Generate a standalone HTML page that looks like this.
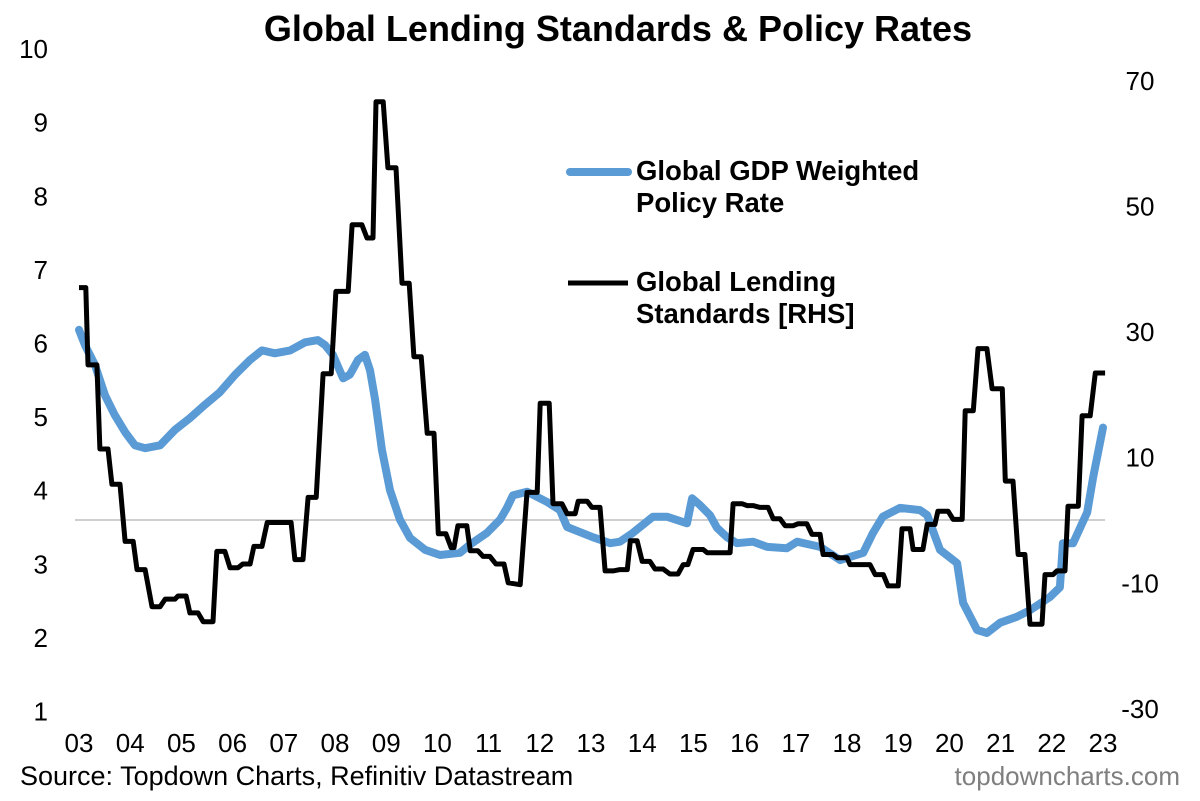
<!DOCTYPE html>
<html><head><meta charset="utf-8"><style>
html,body{margin:0;padding:0;background:#fff}
svg{display:block;font-family:"Liberation Sans",Arial,sans-serif}
</style></head><body>
<svg id="chart" width="1200" height="801" viewBox="0 0 1200 801">
<text x="618" y="41" text-anchor="middle" font-size="36" font-weight="bold">Global Lending Standards &amp; Policy Rates</text>
<g id="axes"></g>
<g id="series"></g>
<g>
<line x1="570" y1="172" x2="628" y2="172" stroke="#5b9bd5" stroke-width="8" stroke-linecap="round"/>
<text x="636" y="180" font-size="27.5" font-weight="bold"><tspan x="636">Global GDP Weighted</tspan><tspan x="636" dy="32">Policy Rate</tspan></text>
<line x1="568" y1="283" x2="628" y2="283" stroke="#000" stroke-width="5"/>
<text x="636" y="291" font-size="27.5" font-weight="bold"><tspan x="636">Global Lending</tspan><tspan x="636" dy="32">Standards [RHS]</tspan></text>
</g>
<text x="20" y="785" font-size="27">Source: Topdown Charts, Refinitiv Datastream</text>
<text x="1180" y="785" font-size="26" fill="#7f7f7f" text-anchor="end">topdowncharts.com</text>
</svg>
<script>
const yearLabels=["03","04","05","06","07","08","09","10","11","12","13","14","15","16","17","18","19","20","21","22","23"];
const leftTicks=[1,2,3,4,5,6,7,8,9,10];
const rightTicks=[-30,-10,10,30,50,70];
// months since Jan 2003
const rateMonths=[0,1.4,3.75,6.1,8.4,10.8,13.1,15.5,19,22.5,26,29.5,33,36.6,40.1,42.9,45.9,49.5,53,56,57.7,59.5,61.9,63.5,65.4,67,68.2,69.4,71,72.9,75.2,77.6,81.1,84.6,89.3,91.6,95.6,98.7,100.3,101.7,105,109.7,112.7,114.4,120.5,124.5,126.8,129.8,131.5,134.5,137.8,142.5,143.7,145.5,147.9,149.5,151.9,154.2,158,161.3,165.9,168.3,173.7,178.4,183.8,186.1,188.4,192.4,197.1,198.8,201.8,205.8,207.2,210.5,212.8,215.9,219.8,222.9,227.6,229.9,230.6,233,236.3,237.7,240];
const rateValues=[6.18,5.97,5.7,5.29,5.02,4.79,4.61,4.57,4.61,4.82,4.98,5.16,5.33,5.57,5.77,5.9,5.86,5.9,6.01,6.04,5.97,5.84,5.52,5.57,5.77,5.84,5.63,5.23,4.55,4,3.6,3.35,3.19,3.12,3.15,3.26,3.42,3.6,3.76,3.93,3.98,3.84,3.73,3.5,3.36,3.28,3.3,3.42,3.5,3.64,3.64,3.55,3.89,3.8,3.66,3.49,3.36,3.28,3.3,3.23,3.21,3.3,3.23,3.05,3.15,3.42,3.64,3.76,3.73,3.66,3.19,3.01,2.47,2.1,2.06,2.2,2.28,2.37,2.55,2.68,3.28,3.28,3.7,4.18,4.85];
const lendMonths=[0,1.6,2.1,4.2,4.9,6.8,7.7,9.6,10.8,12.7,13.6,15.5,17.1,19,20.2,22.5,23.2,25.1,26,27.9,29.1,31.4,32.3,34.2,35.4,37.3,38.4,40.1,41,42.9,44.1,49.7,50.6,52.5,53.7,55.6,57.2,59.1,60.2,63.1,64,66.3,67.5,68.9,69.6,71.3,72.4,74.3,75.7,77.4,78.5,80.2,81.6,83.2,84.2,86,87.2,87.9,88.8,90.9,91.7,93.5,94.7,96.3,97.7,99.6,100.6,103.4,105,107.4,108.1,110.2,111.1,113.2,114.4,116.3,117,119.1,120.2,122.1,123.3,125.2,126.8,128.5,129.2,130.8,132,133.8,135,136.9,138.5,140.4,141.6,142.7,143.9,146.3,147.2,152.6,153.3,155.4,156.6,158,159.6,161.5,162.7,164.3,165.5,167.4,168.5,170.6,171.8,173.7,174.4,176.7,177.7,180,180.7,185.4,186.6,188.5,189.6,192,192.9,194.8,195.5,197.8,198.8,200.6,201.3,203.7,204.9,207,207.7,209.6,210.7,212.8,214,216.4,217.1,218.9,220.1,221.7,222.9,225.7,226.4,228.3,229.2,231.1,231.8,234.2,235.1,237,238.2,240.5];
const lendValues=[37,37,24.7,24.7,11.3,11.3,5.7,5.7,-3.4,-3.4,-7.9,-7.9,-13.8,-13.8,-12.6,-12.6,-12.1,-12.1,-14.8,-14.8,-16.2,-16.2,-5,-5,-7.6,-7.6,-7,-7,-4.2,-4.2,-0.4,-0.4,-6.3,-6.3,3.6,3.6,23.3,23.3,36.4,36.4,47,47,44.9,44.9,66.6,66.6,56.1,56.1,37.7,37.7,26,26,13.8,13.8,-2.2,-2.2,-4.4,-4.4,-0.9,-0.9,-4.9,-4.9,-5.8,-5.8,-7,-7,-10,-10.3,4.4,4.4,18.6,18.6,2.6,2.6,1,1,3,3,2,2,-8.1,-8.1,-7.9,-7.9,-3.3,-3.3,-6.6,-6.6,-7.8,-7.8,-8.6,-8.6,-7.1,-7.1,-4.7,-4.7,-5.2,-5.2,2.6,2.6,2.3,2.3,2,2,0.2,0.2,-0.9,-0.9,-0.6,-0.6,-2.3,-2.3,-5.5,-5.5,-6,-6,-7.1,-7.1,-8.7,-8.7,-10.5,-10.5,-1.4,-1.4,-4.7,-4.7,-0.7,-0.7,1.4,1.4,0.1,0.1,17.4,17.4,27.3,27.3,20.9,20.9,6.2,6.2,-5.5,-5.5,-16.6,-16.6,-8.7,-8.7,-8.1,-8.1,2.2,2.2,16.6,16.6,23.4,23.4];

const NS="http://www.w3.org/2000/svg";
const X=m=>79+m*51.2/12;
const YL=v=>711-(v-1)*73.6;
const YR=v=>520-v*6.28;
const axes=document.getElementById('axes');
const series=document.getElementById('series');
function mk(tag,attrs,parent,text){const e=document.createElementNS(NS,tag);for(const k in attrs)e.setAttribute(k,attrs[k]);if(text!==undefined)e.textContent=text;parent.appendChild(e);return e;}

const zl=mk('line',{x1:75,x2:1105,y1:YR(0),y2:YR(0),stroke:'#bfbfbf','stroke-width':1.5},axes);


leftTicks.forEach(v=>{
  const t=mk('text',{x:48,y:YL(v)+9.5,'font-size':26,'text-anchor':'end'},axes,String(v));
  
  
});
rightTicks.forEach(v=>{
  const t=mk('text',{x:1140,y:YR(v)+9.5,'font-size':26,'text-anchor':'middle'},axes,String(v));
  
  
});
yearLabels.forEach((l,i)=>{
  const t=mk('text',{x:X(i*12),y:752,'font-size':26,'text-anchor':'middle'},axes,l);
  
  
});
const rp=rateMonths.map((m,i)=>X(m).toFixed(1)+','+YL(rateValues[i]).toFixed(1)).join(' ');
const rl=mk('polyline',{points:rp,fill:'none',stroke:'#5b9bd5','stroke-width':8,'stroke-linejoin':'round','stroke-linecap':'round'},series);


const lp=lendMonths.map((m,i)=>X(m).toFixed(1)+','+YR(lendValues[i]).toFixed(1)).join(' ');
const ll=mk('polyline',{points:lp,fill:'none',stroke:'#000','stroke-width':5,'stroke-linejoin':'round'},series);


</script>
</body></html>
